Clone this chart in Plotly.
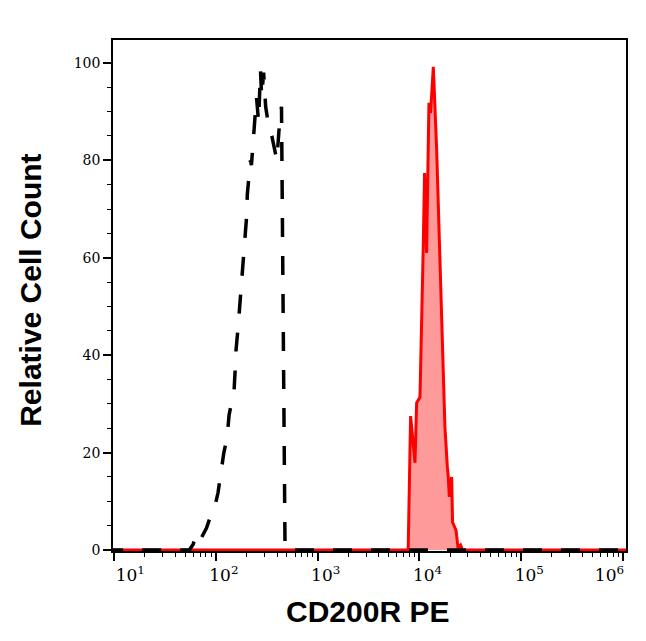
import plotly.graph_objects as go

# isotype control (black dashed)
iso_x = [8, 55, 60, 63, 68, 76, 81, 91, 98, 105, 112, 120, 129, 135, 145, 151,
         155, 158, 166, 174, 182, 191, 200, 204, 209, 214, 219, 224, 234, 251,
         263, 275, 282, 295, 309, 331, 355, 372, 398, 417, 442, 479, 1200000]
iso_y = [0, 0, 1.2, 2.8, 1.5, 3.6, 4.5, 7.6, 9, 11.7, 16, 20, 23, 27.7, 31, 32.5,
         37, 41, 46, 52, 57, 62, 68, 73, 76, 78, 80, 79, 85, 93,
         88, 98.5, 93, 98, 91, 87, 85, 83, 80, 86, 91, 0, 0]

# CD200R PE stained (red filled)
pe_x = [8, 7762, 8204, 8610, 9057, 9397, 10139, 10914, 11246, 11776, 12417, 12882,
        13709, 14791, 15922, 17824, 18836, 19231, 19679, 20749, 21184, 22909,
        23988, 25410, 26607, 1200000]
pe_y = [0, 0, 27.5, 22, 17.9, 30.2, 31.4, 62.2, 77.4, 61, 91.8, 89.7,
        99.2, 82.1, 59.5, 25.3, 17, 15, 10.9, 15, 5.7, 4.1,
        0.4, 1, 0, 0]

x_ticks = [10, 100, 1000, 10000, 100000, 1000000]
x_exps = ["1", "2", "3", "4", "5", "6"]
y_ticks = [0, 20, 40, 60, 80, 100]

# labels sit a little right of their ticks (last one pulled left to stay in frame)
nb = "\u00a0"
x_labels = []
for i, e in enumerate(x_exps):
    lab = "10<sup>{}</sup>".format(e)
    if i == 0:
        lab = nb * 6 + lab
    elif i == len(x_exps) - 1:
        lab = lab + nb * 5
    else:
        lab = nb * 3 + lab
    x_labels.append(lab)

fig = go.Figure()
fig.add_trace(
    go.Scatter(
        x=pe_x, y=pe_y, mode="lines", fill="tozeroy",
        fillcolor="#ff9a9a", line=dict(color="#ff0000", width=3),
    )
)
fig.add_trace(
    go.Scatter(
        x=iso_x, y=iso_y, mode="lines",
        line=dict(color="black", width=3.5, dash="19px,19px"),
    )
)

title_font = dict(family="Liberation Sans, Arial", size=30, color="black")

# page body has an 8px margin, so the figure is sized/offset to fit the window
fig.update_layout(
    width=638,
    height=633,
    margin=dict(l=105, r=20, t=32, b=90, autoexpand=False),
    plot_bgcolor="white",
    paper_bgcolor="white",
    showlegend=False,
    xaxis=dict(
        type="log",
        range=[0.99, 6.03],
        automargin=False,
        tickmode="array",
        tickvals=x_ticks,
        ticktext=x_labels,
        ticks="outside",
        ticklen=8,
        tickwidth=1.5,
        tickcolor="black",
        ticklabeloverflow="allow",
        tickfont=dict(family="DejaVu Serif", size=17, color="black"),
        showline=True,
        linecolor="black",
        linewidth=1.5,
        mirror=True,
        showgrid=False,
        zeroline=False,
        minor=dict(ticks="outside", ticklen=4, dtick="D1", tickcolor="black",
                   tickwidth=1, showgrid=False),
    ),
    yaxis=dict(
        range=[-0.2, 104.7],
        automargin=False,
        tickmode="array",
        tickvals=y_ticks,
        ticks="outside",
        ticklen=8,
        tickwidth=1.5,
        tickcolor="black",
        tickfont=dict(family="DejaVu Serif", size=14, color="black"),
        showline=True,
        linecolor="black",
        linewidth=1.5,
        mirror=True,
        showgrid=False,
        zeroline=False,
        minor=dict(ticks="outside", ticklen=4, dtick=5, tickcolor="black",
                   tickwidth=1, showgrid=False),
    ),
    annotations=[
        dict(text="<b>CD200R PE</b>", xref="paper", yref="paper",
             x=0.497, y=-0.118, xanchor="center", yanchor="middle",
             showarrow=False, font=title_font),
        dict(text="<b>Relative Cell Count</b>", xref="paper", yref="paper",
             x=-0.16, y=0.511, xanchor="center", yanchor="middle",
             textangle=-90, showarrow=False, font=title_font),
    ],
)

fig.write_html("out.html")
